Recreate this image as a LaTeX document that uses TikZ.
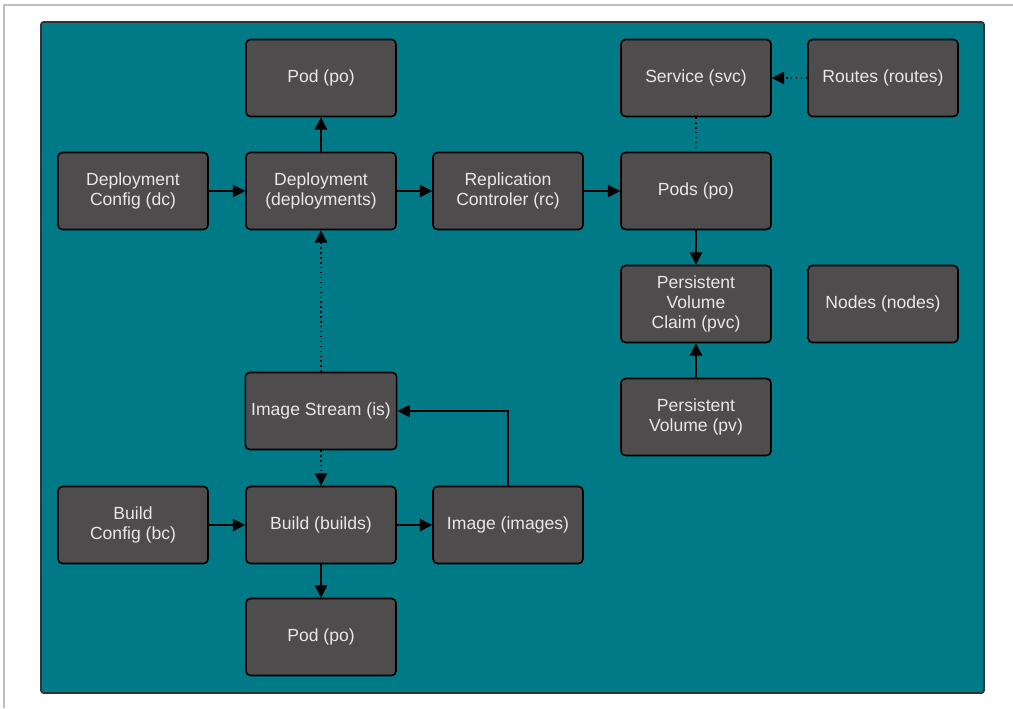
\documentclass[tikz,border=0pt]{standalone}
\usepackage{fontspec}
\setmainfont{Liberation Sans}
\usetikzlibrary{arrows.meta}

\definecolor{tealbg}{RGB}{0,122,135}
\definecolor{boxgray}{RGB}{78,76,76}
\definecolor{boxtext}{RGB}{232,232,232}

\tikzset{
  objbox/.style={rectangle,rounded corners=2.5pt,draw=black,line width=0.9pt,
    fill=boxgray,text=boxtext,minimum width=3cm,minimum height=1.54cm,
    align=center,font=\fontsize{10}{11.5}\selectfont},
  link/.style={draw=black,line width=0.8pt,-{Triangle[length=7pt,width=7pt]}},
  weaklink/.style={link,dotted}
}

\begin{document}
\begin{tikzpicture}[auto,x=0.02cm,y=-0.02cm]
   \useasboundingbox (0,0) rectangle (1013,708);
   \fill[white] (0,0) rectangle (1013,708);
   \draw[black!25,line width=0.6pt] (4,708) -- (4,5) -- (1013,5);
   \draw[fill=tealbg,draw=black!80,line width=1pt,rounded corners=1.5pt] (41,22) rectangle (984,693);
   \begin{scope}[every node/.style={objbox}]
    \node (podtop) at (321,78) {Pod (po)};
    \node (dc) at (133,191) {Deployment\\Config (dc)};
    \node (dep) at (321,191) {Deployment\\(deployments)};
    \node (rc) at (508,191) {Replication\\Controler (rc)};
    \node (pods) at (696,191) {Pods (po)};
    \node (svc) at (696,78) {Service (svc)};
    \node (routes) at (883,78) {Routes (routes)};
    \node (pvc) at (696,304) {Persistent\\Volume\\Claim (pvc)};
    \node (nodes) at (883,304) {Nodes (nodes)};
    \node (pv) at (696,417) {Persistent\\Volume (pv)};
    \node (is) at (321,411) {Image Stream (is)};
    \node (bc) at (133,525) {Build\\Config (bc)};
    \node (build) at (321,525) {Build (builds)};
    \node (img) at (508,525) {Image (images)};
    \node (podbot) at (321,637) {Pod (po)};
   \end{scope}
   \begin{scope}[every edge/.style={link}]
    \draw  (dep) edge (podtop);
    \draw  (dc) edge (dep);
    \draw  (dep) edge (rc);
    \draw  (rc) edge (pods);
    \draw  (pods) edge (pvc);
    \draw  (pv) edge (pvc);
    \draw  (bc) edge (build);
    \draw  (build) edge (img);
    \draw  (build) edge (podbot);
   \end{scope}
   \begin{scope}[every edge/.style={weaklink}]
    \draw  (routes) edge (svc);
    \draw  (is) edge (dep);
    \draw  (is) edge (build);
   \end{scope}
   \draw[draw=black,line width=0.8pt,dotted] (svc) -- (pods);
   \draw[link] (img) |- (is);
\end{tikzpicture}
\end{document}
